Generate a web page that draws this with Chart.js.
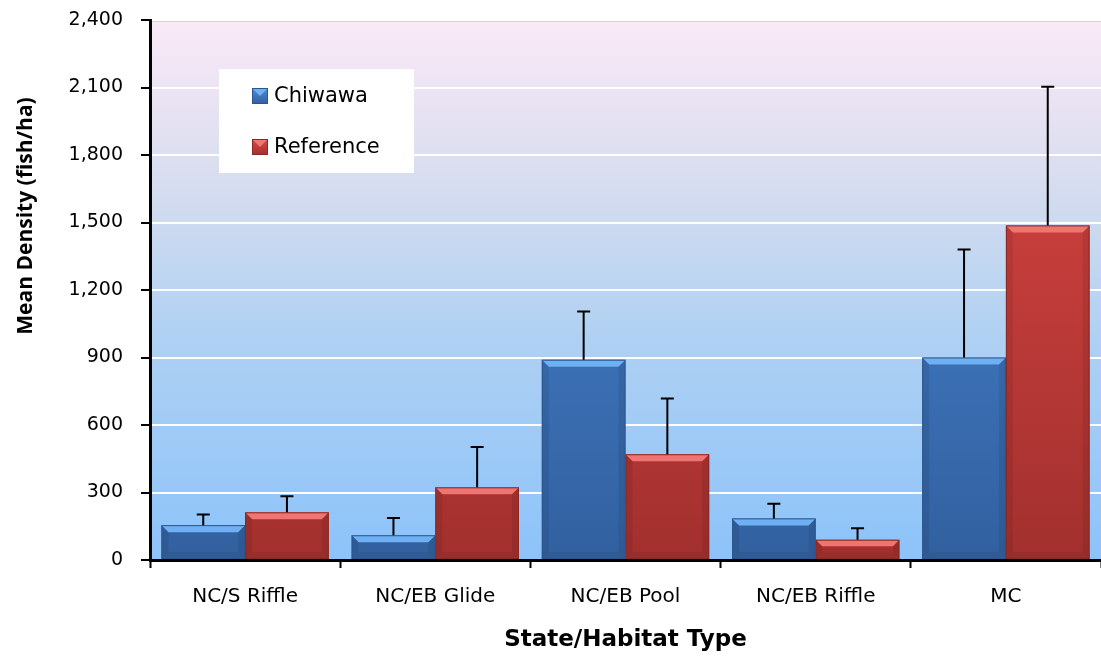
<!DOCTYPE html>
<html>
<head>
<meta charset="utf-8">
<script src="https://cdn.jsdelivr.net/npm/chart.js@4.4.0/dist/chart.umd.min.js"></script>
<style>
  html, body { margin: 0; padding: 0; background: #fff; }
  #wrap { width: 1101px; height: 658px; position: relative; }
</style>
</head>
<body>
<div id="wrap"><canvas id="c1"></canvas></div>
<script>
// data
var categories = ['NC/S Riffle', 'NC/EB Glide', 'NC/EB Pool', 'NC/EB Riffle', 'MC'];
var chiwawa = [155, 110, 890, 185, 900];
var chiwawaErr = [47, 77, 215, 65, 480];
var reference = [212, 323, 470, 90, 1487];
var referenceErr = [71, 179, 248, 51, 616];
var yTicks = [0, 300, 600, 900, 1200, 1500, 1800, 2100, 2400];
var yTitle = 'Mean Density (fish/ha)';

var FONT = '"DejaVu Sans", sans-serif';
var TITLE_FONT = '"Open Sans", sans-serif';

var palette = [
    { top: '#4a8ad8', bottom: '#32609f', hi: '#6fb0f2', edge: '#2c5690' },
    { top: '#dc4744', bottom: '#a2302e', hi: '#f07472', edge: '#8a2826' }
];

function barGradient(ctx, idx) {
    var chart = ctx.chart;
    var area = chart.chartArea;
    if (!area) return palette[idx].top;
    var g = chart.ctx.createLinearGradient(0, area.top, 0, area.bottom);
    g.addColorStop(0, palette[idx].top);
    g.addColorStop(1, palette[idx].bottom);
    return g;
}

// plot background gradient
var bgPlugin = {
    id: 'bg',
    beforeDraw: function (chart) {
        var a = chart.chartArea, c = chart.ctx;
        var g = c.createLinearGradient(0, a.top, 0, a.bottom);
        g.addColorStop(0, '#fbe9f7');
        g.addColorStop(0.3, '#d7ddef');
        g.addColorStop(0.6, '#aed0f3');
        g.addColorStop(1, '#8cc3fa');
        c.save();
        c.fillStyle = g;
        c.fillRect(a.left, a.top, a.right - a.left, a.bottom - a.top);
        c.strokeStyle = '#5a86c0';
        c.lineWidth = 1.5;
        c.beginPath();
        c.moveTo(a.left, a.top + 0.5);
        c.lineTo(a.right, a.top + 0.5);
        c.stroke();
        c.restore();
    }
};

// bevel look + error bars
var extrasPlugin = {
    id: 'extras',
    afterDatasetsDraw: function (chart) {
        var c = chart.ctx;
        var yScale = chart.scales.y;
        var errs = [chiwawaErr, referenceErr];
        c.save();
        chart.data.datasets.forEach(function (ds, di) {
            var meta = chart.getDatasetMeta(di);
            meta.data.forEach(function (bar, i) {
                var l = bar.x - bar.width / 2, r = bar.x + bar.width / 2;
                var t = bar.y, b = bar.base;
                var bv = Math.min(7, (b - t) / 3);
                // top highlight
                c.fillStyle = palette[di].hi;
                c.beginPath();
                c.moveTo(l, t); c.lineTo(r, t); c.lineTo(r - bv, t + bv); c.lineTo(l + bv, t + bv);
                c.closePath(); c.fill();
                // side shading
                c.fillStyle = 'rgba(0,0,0,0.08)';
                c.beginPath();
                c.moveTo(l, t); c.lineTo(l + bv, t + bv); c.lineTo(l + bv, b - bv); c.lineTo(l, b);
                c.closePath(); c.fill();
                c.beginPath();
                c.moveTo(r, t); c.lineTo(r - bv, t + bv); c.lineTo(r - bv, b - bv); c.lineTo(r, b);
                c.closePath(); c.fill();
                c.fillStyle = 'rgba(0,0,0,0.06)';
                c.beginPath();
                c.moveTo(l, b); c.lineTo(l + bv, b - bv); c.lineTo(r - bv, b - bv); c.lineTo(r, b);
                c.closePath(); c.fill();
                c.strokeStyle = palette[di].edge;
                c.lineWidth = 1;
                c.strokeRect(l + 0.5, t + 0.5, r - l - 1, b - t - 1);
                // error bar (upper only)
                var yTop = yScale.getPixelForValue(ds.data[i] + errs[di][i]);
                c.strokeStyle = '#000';
                c.lineWidth = 2;
                c.beginPath();
                c.moveTo(bar.x, t);
                c.lineTo(bar.x, yTop);
                c.moveTo(bar.x - 6.5, yTop);
                c.lineTo(bar.x + 6.5, yTop);
                c.stroke();
            });
        });
        c.restore();
    },
    afterDraw: function (chart) {
        var c = chart.ctx;
        c.save();
        // y axis title, sits above the axis middle like the original
        c.translate(26, 216);
        c.rotate(-Math.PI / 2);
        c.font = 'bold 21px ' + TITLE_FONT;
        c.fillStyle = '#000';
        c.textAlign = 'center';
        c.textBaseline = 'middle';
        c.fillText(yTitle, 0, 0);
        c.restore();

        // floating legend box
        c.save();
        c.fillStyle = '#ffffff';
        c.fillRect(219, 69, 195, 104);
        c.font = '21px ' + FONT;
        c.textBaseline = 'middle';
        chart.data.datasets.forEach(function (ds, di) {
            var y = di === 0 ? 96 : 147;
            var x = 252;
            var s = 16;
            var g = c.createLinearGradient(0, y - s / 2, 0, y + s / 2);
            g.addColorStop(0, palette[di].top);
            g.addColorStop(1, palette[di].bottom);
            c.fillStyle = g;
            c.fillRect(x, y - s / 2, s, s);
            c.fillStyle = palette[di].hi;
            c.beginPath();
            c.moveTo(x, y - s / 2); c.lineTo(x + s, y - s / 2); c.lineTo(x + s / 2, y); c.closePath(); c.fill();
            c.strokeStyle = palette[di].edge;
            c.lineWidth = 1;
            c.strokeRect(x + 0.5, y - s / 2 + 0.5, s - 1, s - 1);
            c.fillStyle = '#000';
            c.fillText(ds.label, x + 22, y + 1);
        });
        c.restore();
    }
};

var ctx = document.getElementById('c1');
var myBarChart = new Chart(ctx, {
    type: 'bar',
    data: {
        labels: categories,
        datasets: [{
            label: 'Chiwawa',
            data: chiwawa,
            backgroundColor: function (c) { return barGradient(c, 0); },
            borderWidth: 0
        }, {
            label: 'Reference',
            data: reference,
            backgroundColor: function (c) { return barGradient(c, 1); },
            borderWidth: 0
        }]
    },
    options: {
        responsive: true,
        maintainAspectRatio: false,
        animation: false,
        layout: { padding: { top: 20, right: 0, left: 0, bottom: 0 } },
        datasets: { bar: { categoryPercentage: 0.88, barPercentage: 1.0 } },
        plugins: {
            legend: { display: false },
            tooltip: { enabled: false }
        },
        scales: {
            x: {
                grid: {
                    drawOnChartArea: false,
                    tickColor: '#000',
                    tickWidth: 2,
                    tickLength: 8
                },
                border: { color: '#000', width: 3 },
                ticks: { color: '#000', font: { family: FONT, size: 20 }, padding: 17 },
                title: {
                    display: true,
                    text: 'State/Habitat Type',
                    color: '#000',
                    font: { family: FONT, size: 23, weight: 'bold' },
                    padding: { top: 6 }
                },
                afterFit: function (scale) { scale.height = 98; }
            },
            y: {
                min: 0,
                max: 2400,
                afterBuildTicks: function (scale) {
                    scale.ticks = yTicks.map(function (v) { return { value: v }; });
                },
                grid: {
                    color: '#ffffff',
                    lineWidth: 2,
                    tickColor: '#000',
                    tickWidth: 2,
                    tickLength: 9
                },
                border: { color: '#000', width: 3 },
                ticks: {
                    color: '#000',
                    font: { family: FONT, size: 19 },
                    padding: 18,
                    callback: function (v) { return v.toLocaleString('en-US'); }
                },
                title: { display: false },
                afterFit: function (scale) {
                    scale.width = 150;
                    scale.paddingTop = 0;
                }
            }
        }
    },
    plugins: [bgPlugin, extrasPlugin]
});
</script>
</body>
</html>
